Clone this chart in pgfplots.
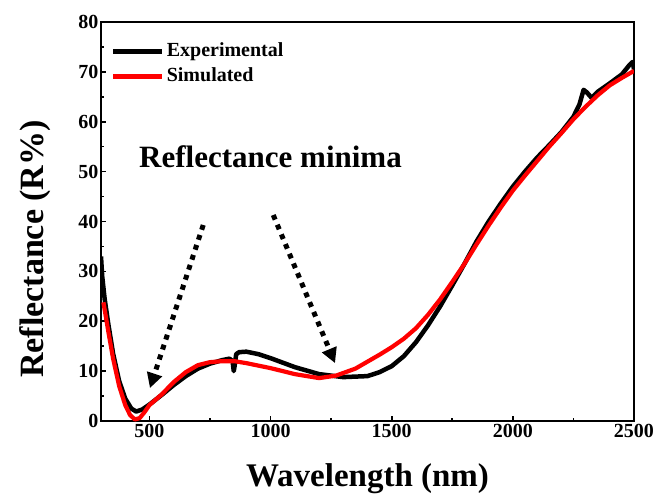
\documentclass[border=0pt]{standalone}
\usepackage{fontspec}
\setmainfont{Liberation Serif}
\usepackage{pgfplots}
\pgfplotsset{compat=1.18}
\usetikzlibrary{arrows.meta}

\begin{document}
\begin{tikzpicture}
\useasboundingbox (-101pt,-75pt) rectangle (556pt,421pt);
\begin{axis}[
  at={(0,0)}, anchor=south west,
  scale only axis,
  width=533pt, height=399pt,
  xmin=300, xmax=2500, ymin=0, ymax=80,
  xtick={500,1000,1500,2000,2500},
  ytick={0,10,...,80},
  minor x tick num=1, minor y tick num=1,
  tick align=inside,
  xtick pos=bottom, ytick pos=left,
  major tick length=5pt, minor tick length=3.5pt,
  every tick/.style={line width=1.6pt, black},
  axis line style={line width=2.4pt},
  /pgf/number format/assume math mode=true,
  /pgf/number format/1000 sep={},
  tick label style={font=\bfseries\fontsize{20}{20}\selectfont, inner sep=2.5pt},
  xlabel={Wavelength (nm)},
  ylabel={Reflectance (R\%)},
  xlabel style={font=\bfseries\fontsize{33}{33}\selectfont,
    at={(axis description cs:0.5,-0.1654)}, anchor=base},
  ylabel style={font=\bfseries\fontsize{34}{34}\selectfont,
    at={(axis description cs:-0.1088,0.431)}, anchor=base, rotate=0},
  legend style={at={(axis description cs:0.018,0.956)}, anchor=north west,
    draw=none, fill=none, inner sep=0pt, row sep=2pt,
    font=\bfseries\fontsize{20}{20}\selectfont,
    nodes={inner sep=2.5pt, text height=14pt, text depth=4pt}},
  legend cell align=left,
  legend image code/.code={\draw[#1, line width=4.5pt] (0pt,0pt) -- (49pt,0pt);},
  clip=true,
]
% measured spectrum
\addplot[black, line width=4.5pt, line join=round] coordinates {
 (300,33) (305,29) (315,24.5) (330,19.5) (350,13.5) (375,8) (400,4.5)
 (425,2.5) (445,1.9) (470,2.3) (500,3.3) (550,5.2) (600,7.2) (650,9.0)
 (700,10.5) (750,11.5) (800,12.2) (830,12.5) (843,12.0) (848,10.0)
 (853,11.5) (858,13.4) (870,13.8) (900,13.9) (950,13.4) (1000,12.6)
 (1100,10.8) (1200,9.4) (1300,8.8) (1400,9.0) (1450,9.8) (1500,11.0)
 (1550,13.0) (1600,15.8) (1650,19.2) (1700,23.0) (1750,27.2) (1800,31.5)
 (1850,36.0) (1900,40.0) (1950,43.6) (2000,47.0) (2050,50.0) (2100,52.8)
 (2150,55.3) (2200,57.9) (2250,61.0) (2275,63.5) (2292,66.4) (2305,65.9)
 (2325,64.8) (2350,66.0) (2400,67.7) (2450,69.5) (2480,71.3) (2495,72.0)
 (2500,70.5)
};
% model fit
\addplot[red, line width=4.2pt, line join=round] coordinates {
 (310,23.8) (330,18) (350,12.5) (375,7) (400,3.2) (420,1.2) (440,0.3)
 (460,0.6) (480,1.8) (500,3.2) (550,5.3) (600,7.8) (650,9.8) (700,11.2)
 (750,11.8) (800,12.0) (850,12.0) (900,11.6) (1000,10.6) (1100,9.4)
 (1200,8.6) (1270,9.1) (1350,10.5) (1450,13.3) (1500,14.8) (1550,16.5)
 (1600,18.6) (1650,21.3) (1700,24.4) (1750,27.9) (1800,31.5) (1850,35.4)
 (1900,39.2) (1950,42.8) (2000,46.2) (2050,49.2) (2100,52.1) (2150,55.0)
 (2200,57.7) (2250,60.5) (2300,63.0) (2350,65.3) (2400,67.3) (2450,68.8)
 (2500,70.2)
};
\legend{Experimental, Simulated}

\node[anchor=base west, inner sep=0pt,
      font=\bfseries\fontsize{31}{31}\selectfont] at (axis cs:457,50.9)
  {Reflectance minima};
\draw[line width=5pt, dash pattern=on 5pt off 5.5pt,
      -{Triangle[length=15pt,width=15pt]}] (axis cs:722,39.3) -- (axis cs:502,6.6);
\draw[line width=5pt, dash pattern=on 5pt off 5.5pt,
      -{Triangle[length=15pt,width=15pt]}] (axis cs:1011,41.3) -- (axis cs:1266,11.6);
\end{axis}
\end{tikzpicture}
\end{document}
